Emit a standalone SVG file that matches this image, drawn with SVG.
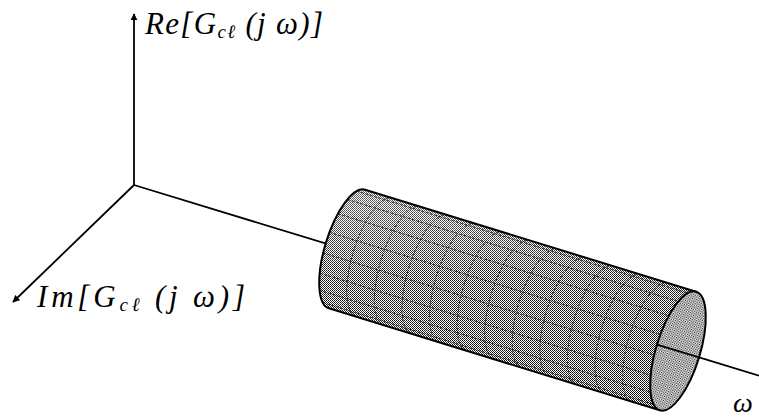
<svg xmlns="http://www.w3.org/2000/svg" width="759" height="417" viewBox="0 0 759 417">
<style>
.axis{stroke:#000;stroke-width:1.8;fill:none}
.lbl{font-family:"Liberation Serif","DejaVu Serif",serif;font-style:italic;font-size:31px;fill:#000}
.sub{font-size:19px}
.mesh{stroke:#222;stroke-width:0.9;fill:none;stroke-dasharray:3 1.5}
.outline{stroke:#000;stroke-width:2;fill:none}
</style>
<defs>
<pattern id="dots" patternUnits="userSpaceOnUse" width="2" height="2">
<rect width="2" height="2" fill="#fff"/>
<rect x="0" y="0" width="1" height="1" fill="#000"/>
<rect x="1" y="1" width="1" height="1" fill="#222"/>
</pattern>
<pattern id="dotsLight" patternUnits="userSpaceOnUse" width="2" height="2">
<rect width="2" height="2" fill="#fff"/>
<rect x="0" y="0" width="1" height="1" fill="#111"/>
<rect x="1" y="1" width="1" height="1" fill="#888"/>
</pattern>
<linearGradient id="shade" x1="0" y1="0" x2="0" y2="1">
<stop offset="0" stop-color="#fff" stop-opacity="0.35"/>
<stop offset="0.4" stop-color="#fff" stop-opacity="0.1"/>
<stop offset="1" stop-color="#fff" stop-opacity="0"/>
</linearGradient>
<marker id="arr" viewBox="0 0 10 10" refX="9" refY="5" markerWidth="4" markerHeight="4" orient="auto" markerUnits="strokeWidth">
<path d="M0,0 L10,5 L0,10 Z" fill="#000"/>
</marker>
</defs>

<g id="connectors">
<line class="axis" x1="134" y1="185" x2="134" y2="14" marker-end="url(#arr)"/>
<line class="axis" x1="134" y1="185" x2="13" y2="302" marker-end="url(#arr)"/>
<line class="axis" x1="134" y1="185" x2="759" y2="375.6"/>
</g>

<g id="cylinder">
<path d="M365.1,189.7 L696.1,291.7 A22 62 17 0 0 659.9,410.3 L328.9,308.3 A22 62 17 0 1 365.1,189.7 Z" fill="url(#dots)"/>
<path d="M365.1,189.7 L696.1,291.7 A22 62 17 0 0 659.9,410.3 L328.9,308.3 A22 62 17 0 1 365.1,189.7 Z" fill="url(#shade)"/>
<g class="mesh">
<line x1="356.8" y1="191.1" x2="687.8" y2="293.1"/>
<line x1="347.4" y1="199.5" x2="678.4" y2="301.5"/>
<line x1="337.9" y1="213.8" x2="668.9" y2="315.8"/>
<line x1="329.4" y1="232.4" x2="660.4" y2="334.4"/>
<line x1="323.1" y1="253.0" x2="654.1" y2="355.0"/>
<line x1="319.7" y1="273.1" x2="650.7" y2="375.1"/>
<line x1="319.6" y1="290.3" x2="650.6" y2="392.3"/>
<line x1="322.8" y1="302.5" x2="653.8" y2="404.5"/>
<path d="M392.7,198.2 A22 62 17 0 0 356.5,316.8"/>
<path d="M420.3,206.7 A22 62 17 0 0 384.0,325.3"/>
<path d="M447.9,215.2 A22 62 17 0 0 411.6,333.8"/>
<path d="M475.5,223.7 A22 62 17 0 0 439.2,342.3"/>
<path d="M503.0,232.2 A22 62 17 0 0 466.8,350.8"/>
<path d="M530.6,240.7 A22 62 17 0 0 494.4,359.3"/>
<path d="M558.2,249.2 A22 62 17 0 0 521.9,367.8"/>
<path d="M585.8,257.7 A22 62 17 0 0 549.5,376.3"/>
<path d="M613.4,266.2 A22 62 17 0 0 577.1,384.8"/>
<path d="M640.9,274.7 A22 62 17 0 0 604.7,393.3"/>
<path d="M668.5,283.2 A22 62 17 0 0 632.3,401.8"/>
</g>
<path class="outline" d="M365.1,189.7 L696.1,291.7 M659.9,410.3 L328.9,308.3 A22 62 17 0 1 365.1,189.7"/>
<ellipse cx="678" cy="351" rx="22" ry="62" transform="rotate(17 678 351)" fill="url(#dotsLight)" stroke="#000" stroke-width="2"/>
<line class="axis" x1="657" y1="344.6" x2="700" y2="357.7"/>
</g>

<g id="labels">
<text class="lbl" x="145" y="34" textLength="178" lengthAdjust="spacing">Re[G<tspan class="sub" dy="4">cℓ</tspan><tspan dy="-4"> (j ω)]</tspan></text>
<text class="lbl" x="37" y="307" textLength="208" lengthAdjust="spacing">Im[G<tspan class="sub" dy="4">cℓ</tspan><tspan dy="-4"> (j ω)]</tspan></text>
<text class="lbl" x="733" y="412" style="font-size:28px">ω</text>
</g>
</svg>
